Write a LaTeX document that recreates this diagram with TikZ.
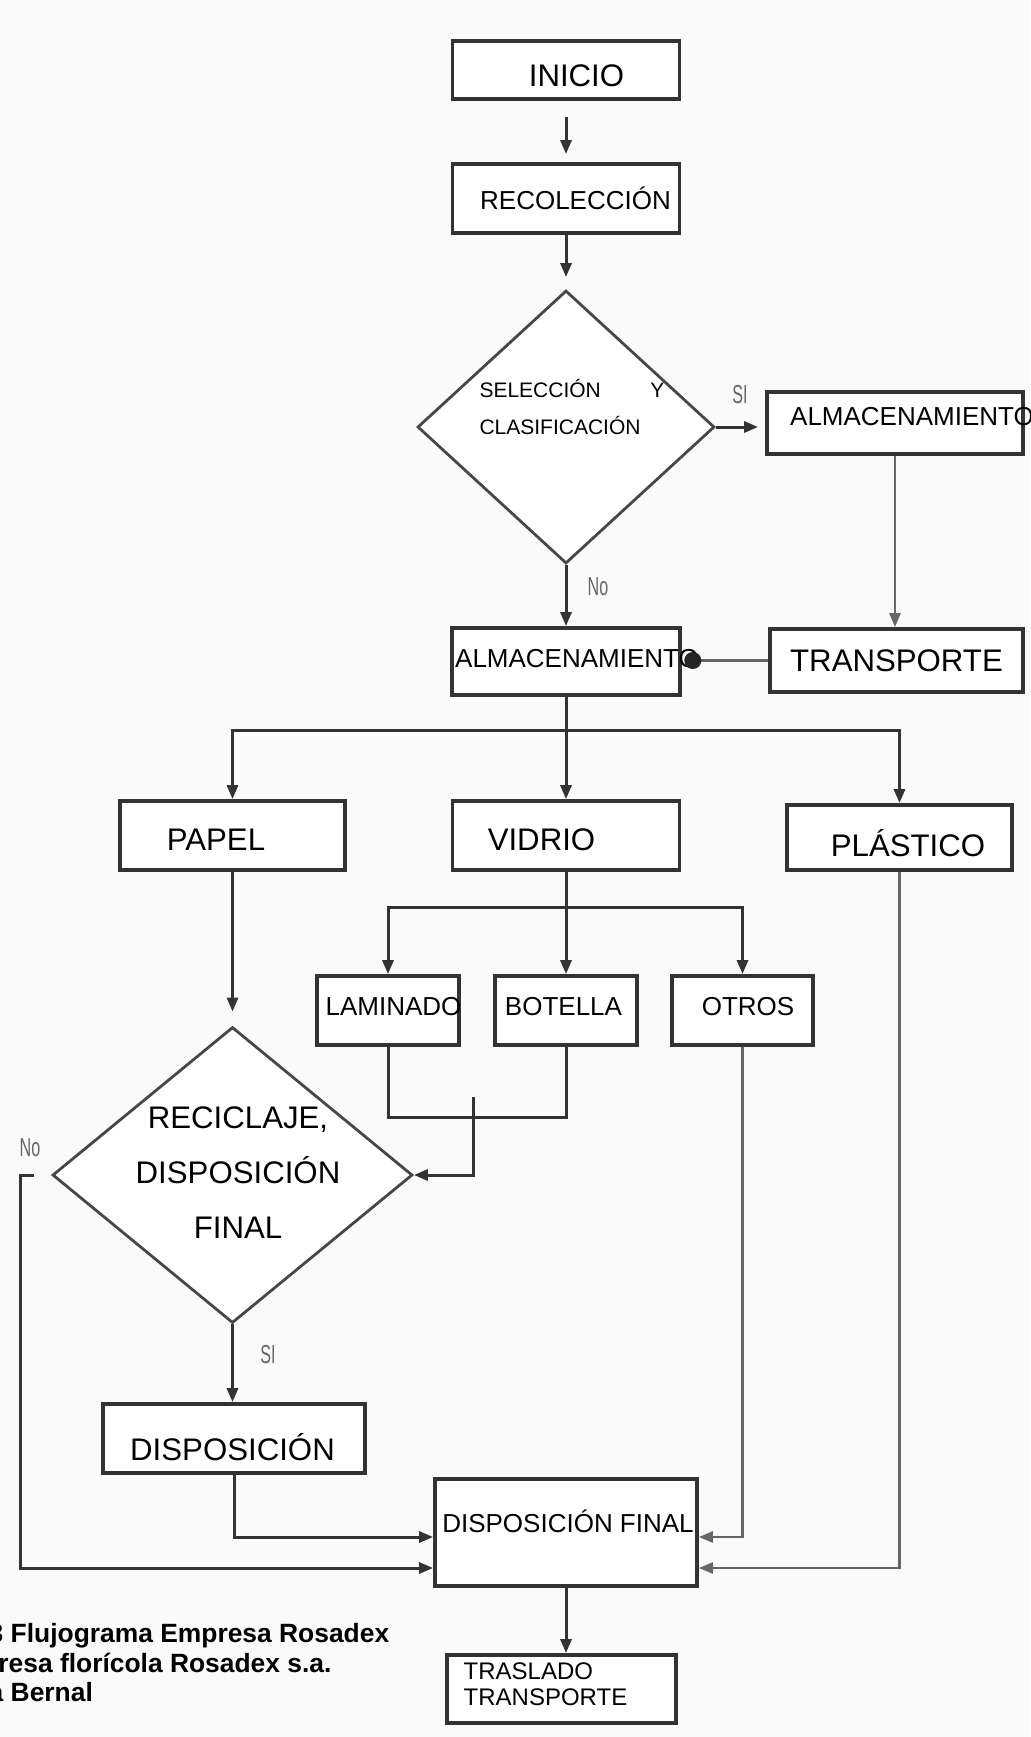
\documentclass[tikz,border=0pt]{standalone}
\usepackage{fontspec}
\setmainfont{Liberation Sans}
\newfontfamily\narrowfont[FakeStretch=0.62]{Liberation Sans}
\usetikzlibrary{shapes.geometric,arrows.meta}

\tikzset{
  box/.style 2 args={draw=black!80, line width=1.9pt, fill=white, minimum width=#1, minimum height=#2, inner sep=0pt},
  decision/.style 2 args={diamond, draw=black!72, line width=1.4pt, fill=white, minimum width=#1, minimum height=#2, inner sep=0pt},
  bigtext/.style={font=\fontsize{15.6}{18}\selectfont},
  midtext/.style={font=\fontsize{13}{15}\selectfont},
  yesno/.style={font=\narrowfont\fontsize{13}{15}\selectfont, text=black!60},
  captext/.style={font=\bfseries\fontsize{13.2}{15}\selectfont, inner sep=0pt},
  link/.style={draw=black!80, line width=1.5pt},
  flow/.style={link, ->},
  greyflow/.style={draw=black!60, line width=1.3pt, ->}
}

\begin{document}
\begin{tikzpicture}[x=0.5pt, y=-0.5pt, >={Triangle[length=7pt,width=5.5pt]}]
	\path[use as bounding box, fill=black!2] (0,0) rectangle (1030,1737);
	\node (inicio) [box={113.5pt}{29pt}, label={[bigtext,xshift=5.25pt,yshift=-3pt]center:INICIO}] at (566,70) {};
	\node (recol) [box={113.5pt}{34.5pt}, label={[midtext,xshift=4.75pt]center:RECOLECCIÓN}] at (566,198.5) {};
	\node (sel) [decision={148.5pt}{136.5pt}, label={[align=left,font=\fontsize{10.5}{18.5}\selectfont,xshift=3pt,yshift=10.25pt]center:SELECCIÓN\hspace{24.8pt}Y\\CLASIFICACIÓN}] at (566,427) {};
	\node (almA) [box={128pt}{31pt}, label={[midtext,xshift=8.5pt,yshift=3pt]center:ALMACENAMIENTO}] at (895,423) {};
	\node (trans) [box={126.5pt}{31.5pt}, label={[bigtext]center:TRANSPORTE}] at (896.5,660.5) {};
	\node (almB) [box={114pt}{33.5pt}, label={[midtext,xshift=5.5pt,yshift=1.5pt]center:ALMACENAMIENTO}] at (566,661.5) {};
	\node (papel) [box={112.5pt}{34.5pt}, label={[bigtext,xshift=-8.25pt,yshift=-2pt]center:PAPEL}] at (232.5,835.5) {};
	\node (vidrio) [box={113.5pt}{34.5pt}, label={[bigtext,xshift=-12.25pt,yshift=-2pt]center:VIDRIO}] at (566,835.5) {};
	\node (plast) [box={112.5pt}{32.5pt}, label={[bigtext,xshift=4.25pt,yshift=-3pt]center:PLÁSTICO}] at (899.5,837.5) {};
	\node (lamin) [box={71pt}{34.5pt}, label={[midtext,xshift=2.75pt,yshift=1.75pt]center:LAMINADO}] at (388,1010.5) {};
	\node (botella) [box={71pt}{34.5pt}, label={[midtext,xshift=-1.25pt,yshift=1.75pt]center:BOTELLA}] at (566,1010.5) {};
	\node (otros) [box={70.5pt}{34.5pt}, label={[midtext,xshift=2.75pt,yshift=2pt]center:OTROS}] at (742.5,1010.5) {};
	\node (recic) [decision={180pt}{148pt}, label={[align=center,font=\fontsize{15.6}{27.5}\selectfont,xshift=2.75pt,yshift=1pt]center:RECICLAJE,\\DISPOSICIÓN\\FINAL}] at (232.5,1175) {};
	\node (dispo) [box={131pt}{34.5pt}, label={[bigtext,xshift=-0.75pt,yshift=-4.25pt]center:DISPOSICIÓN}] at (234,1438.5) {};
	\node (dfinal) [box={131pt}{53.5pt}, label={[midtext,xshift=1pt,yshift=5.75pt]center:DISPOSICIÓN FINAL}] at (566,1532.5) {};
	\node (trasl) [box={114.5pt}{34pt}, label={[align=left,font=\fontsize{12}{13}\selectfont,xshift=-8pt,yshift=2.5pt]center:TRASLADO\\TRANSPORTE}] at (561.5,1689) {};
	\node (si1) [yesno] at (740,395) {SI};
	\node (no1) [yesno] at (598,587) {No};
	\node (no2) [yesno] at (30,1148) {No};
	\node (si2) [yesno] at (268,1355) {SI};
	\node (cap1) [captext, anchor=base west] at (-11.7,1642) {3 Flujograma Empresa Rosadex};
	\node (cap2) [captext, anchor=base west] at (-2,1672) {resa florícola Rosadex s.a.};
	\node (cap3) [captext, anchor=base west] at (-11.7,1701) {a Bernal};
	\coordinate (split1) at (566,730);
	\coordinate (split2) at (566,907);
	\coordinate (mergeA) at (473,1117);
	\coordinate (mergeB) at (473,1097);
	\coordinate (loopL) at (20,1568);
	\draw[flow, shorten <=8pt, shorten >=4pt] (inicio) -- (recol);
	\draw[flow, shorten >=6pt] (recol) -- (sel);
	\draw[flow, shorten >=3.5pt] (sel.east) -- (sel.east -| almA.west);
	\draw[flow] (sel) -- (almB);
	\draw[greyflow] (almA.south) -- (almA.south |- trans.north);
	\draw[greyflow, -{Circle[length=8.5pt, black!85]}] (trans.west) -- ([xshift=1.2pt]almB.east |- trans.west);
	\draw[flow] (almB) -- (vidrio);
	\draw[flow] (split1) -| (papel);
	\draw[flow] (split1) -| (plast);
	\draw[flow] (vidrio) -- (botella);
	\draw[flow] (split2) -| (lamin);
	\draw[flow] (split2) -| (otros);
	\draw[flow, shorten >=7pt] (papel) -- (recic);
	\draw[link] (lamin) |- (mergeA) -| (botella);
	\draw[flow] (mergeB) |- (recic.east);
	\draw[flow] ([xshift=-8.5pt]recic.west) -| (loopL) -- (dfinal.west |- loopL);
	\draw[flow] (recic.south) -- (recic.south |- dispo.north);
	\draw[flow] (dispo) |- ([yshift=-2.25pt]dfinal.west);
	\draw[greyflow] (otros) |- ([yshift=-2.25pt]dfinal.east);
	\draw[greyflow] (plast) |- (dfinal.east |- loopL);
	\draw[flow] (dfinal) -- (dfinal |- trasl.north);
\end{tikzpicture}
\end{document}
